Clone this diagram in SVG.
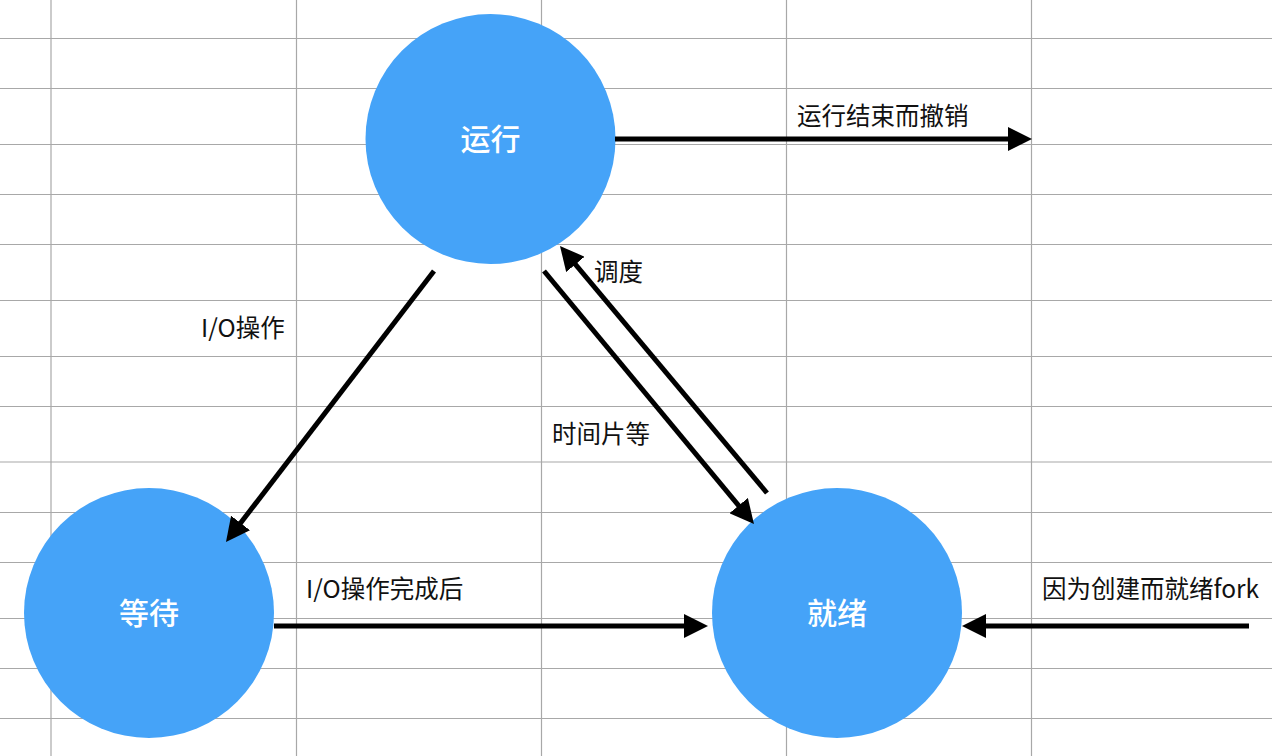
<svg xmlns="http://www.w3.org/2000/svg" width="1272" height="756" viewBox="0 0 1272 756">
  <style>
    .grid line { stroke: #a8a8a8; stroke-width: 1.2; }
    .state { fill: #45a3f8; }
    .state-label { fill: #ffffff; font-family: "Noto Sans CJK SC", "Noto Sans", sans-serif; font-size: 30px; font-weight: 500; text-anchor: middle; dominant-baseline: central; }
    .edge { stroke: #000000; stroke-width: 5; fill: none; marker-end: url(#arrow); }
    .edge-label { fill: #111111; font-family: "Noto Sans CJK SC", "Noto Sans", sans-serif; font-size: 24.5px; }
  </style>
  <defs>
    <marker id="arrow" markerUnits="userSpaceOnUse" markerWidth="24" markerHeight="24" refX="12" refY="12" orient="auto">
      <path d="M0,0 L24,12 L0,24 z" fill="#000000"/>
    </marker>
  </defs>

  <rect x="0" y="0" width="1272" height="756" fill="#ffffff"/>

  <!-- background grid -->
  <g class="grid">
    <line x1="51" y1="0" x2="51" y2="756"/>
    <line x1="296.5" y1="0" x2="296.5" y2="756"/>
    <line x1="541.5" y1="0" x2="541.5" y2="756"/>
    <line x1="786.5" y1="0" x2="786.5" y2="756"/>
    <line x1="1031.5" y1="0" x2="1031.5" y2="756"/>
    <line x1="0" y1="38.5" x2="1272" y2="38.5"/>
    <line x1="0" y1="88.5" x2="1272" y2="88.5"/>
    <line x1="0" y1="144.5" x2="1272" y2="144.5"/>
    <line x1="0" y1="194.5" x2="1272" y2="194.5"/>
    <line x1="0" y1="244.5" x2="1272" y2="244.5"/>
    <line x1="0" y1="300.5" x2="1272" y2="300.5"/>
    <line x1="0" y1="356.5" x2="1272" y2="356.5"/>
    <line x1="0" y1="406.5" x2="1272" y2="406.5"/>
    <line x1="0" y1="462" x2="1272" y2="462"/>
    <line x1="0" y1="512.5" x2="1272" y2="512.5"/>
    <line x1="0" y1="562.5" x2="1272" y2="562.5"/>
    <line x1="0" y1="618.5" x2="1272" y2="618.5"/>
    <line x1="0" y1="668.5" x2="1272" y2="668.5"/>
    <line x1="0" y1="718.5" x2="1272" y2="718.5"/>
  </g>

  <!-- states -->
  <g id="running">
    <circle class="state" cx="490.5" cy="139" r="125"/>
    <text class="state-label" x="490.5" y="137">运行</text>
  </g>
  <g id="waiting">
    <circle class="state" cx="149" cy="613" r="125"/>
    <text class="state-label" x="149" y="611">等待</text>
  </g>
  <g id="ready">
    <circle class="state" cx="837" cy="613" r="125"/>
    <text class="state-label" x="837" y="611">就绪</text>
  </g>

  <!-- transitions -->
  <g id="connectors">
    <line class="edge" x1="615" y1="139" x2="1020" y2="139"/>
    <line class="edge" x1="274" y1="626" x2="696" y2="626"/>
    <line class="edge" x1="1249" y1="626" x2="974" y2="626"/>
    <line class="edge" x1="434" y1="271" x2="233.3" y2="532.5"/>
    <line class="edge" x1="544" y1="271" x2="746.3" y2="514.8"/>
    <line class="edge" x1="767" y1="493" x2="567.7" y2="255.2"/>
  </g>

  <!-- transition labels -->
  <g id="labels">
    <text class="edge-label" x="797" y="125">运行结束而撤销</text>
    <text class="edge-label" x="201" y="337">I/O操作</text>
    <text class="edge-label" x="594" y="281">调度</text>
    <text class="edge-label" x="552" y="443">时间片等</text>
    <text class="edge-label" x="306" y="598">I/O操作完成后</text>
    <text class="edge-label" x="1042" y="598">因为创建而就绪fork</text>
  </g>
</svg>
